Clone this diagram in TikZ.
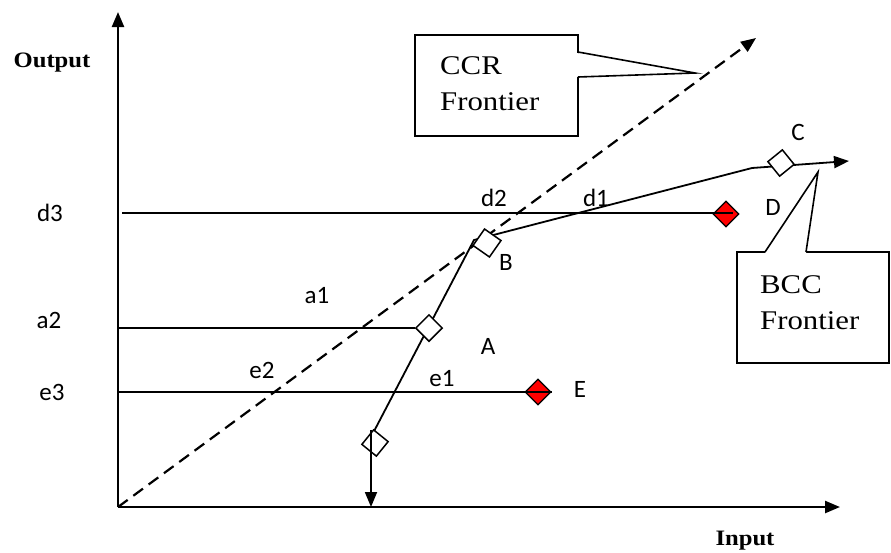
\documentclass[tikz,border=0pt]{standalone}
\usepackage{fontspec}
\usetikzlibrary{shapes.geometric,arrows.meta}
\newfontfamily\labfont{Carlito}
\newfontfamily\serfont[FakeStretch=1.14]{Liberation Serif}
\newfontfamily\axfont[FakeStretch=1.12]{Liberation Serif}
\begin{document}
\begin{tikzpicture}[x=1pt,y=-1pt,
  axis/.style={line width=2.4pt,-{Triangle[length=15pt,width=12pt]}},
  thin/.style={line width=1.8pt},
  wdia/.style={diamond,draw,line width=1.5pt,fill=white,minimum width=27pt,minimum height=27pt,inner sep=0pt},
  rdia/.style={diamond,draw,line width=1.2pt,fill=red,minimum width=26pt,minimum height=26pt,inner sep=0pt},
  lab/.style={font=\labfont\fontsize{25}{28}\selectfont,inner sep=0pt},
  ser/.style={font=\serfont\fontsize{27}{36}\selectfont,align=left,inner sep=0pt},
  axlab/.style={font=\axfont\bfseries\fontsize{22}{24}\selectfont,inner sep=0pt}]
\useasboundingbox (0,0) rectangle (891,552);
% axes
\coordinate (o) at (118,507);
\coordinate (ytop) at (118,12);
\coordinate (xend) at (840,507);
\draw[axis] (o) -- (ytop);
\draw[axis] (o) -- (xend);
\node[axlab] (outl) at (52,63) {Output};
\node[axlab] (inl) at (745,541) {Input};
% CCR dashed
\coordinate (ccrtip) at (756,38);
\draw[line width=2.2pt,dash pattern=on 12pt off 7pt,-{Triangle[length=15pt,width=12pt]}] (o) -- (ccrtip);
% horizontal lines
\node[rdia] (D) at (726,214) {};
\node[rdia] (E) at (538,392) {};
\coordinate (d3s) at (122,213);
\coordinate (a2s) at (118,328);
\coordinate (e3s) at (118,392);
\draw[thin] (d3s) -- (733,213);
\draw[thin] (e3s) -- (E.east);
% frontier
\coordinate (p0) at (371,437);
\coordinate (pB) at (474,240);
\coordinate (pk) at (752,168);
\coordinate (ptip) at (849,161);
\draw[line width=1.8pt,-{Triangle[length=15pt,width=12pt]}] (p0) -- (pB) -- (pk) -- (ptip);
\coordinate (vbot) at (371,507);
\node[wdia] (A) at (429,328) {};
\node[wdia,rotate=10,minimum width=29pt,minimum height=29pt] (B) at (487,243) {};
\node[wdia,rotate=-6] (C) at (781,163) {};
\node[wdia,rotate=6] (P) at (375,443) {};
\draw[line width=1.8pt,-{Triangle[length=15pt,width=12pt]}] (371,430) -- (vbot);
\draw[thin] (a2s) -- (A.west);
% labels
\node[lab] (ld3) at (50,213) {d3};
\node[lab] (la2) at (49,320) {a2};
\node[lab] (le3) at (52,392) {e3};
\node[lab] (la1) at (317,296) {a1};
\node[lab] (le2) at (262,370) {e2};
\node[lab] (le1) at (442,379) {e1};
\node[lab] (ld2) at (494,198) {d2};
\node[lab] (ld1) at (596,198) {d1};
\node[lab] (lA) at (488,346) {A};
\node[lab] (lB) at (506,262) {B};
\node[lab] (lC) at (798,132) {C};
\node[lab] (lD) at (773,207) {D};
\node[lab] (lE) at (580,389) {E};
% CCR callout
\draw[line width=1.6pt] (415,35) rectangle (578,136);
\fill[white] (577,53) -- (695,73) -- (577,77) -- cycle;
\draw[line width=1.6pt] (578,52) -- (695,73) -- (578,77);
\node[ser,anchor=north west] (ccr) at (440,56) {CCR\\Frontier};
% BCC callout
\draw[line width=1.6pt] (737,252) rectangle (889,363);
\fill[white] (765,253) -- (818,172) -- (806,253) -- cycle;
\draw[line width=1.6pt] (765,252) -- (818,172) -- (806,252);
\node[ser,anchor=north west] (bcc) at (760,275) {BCC\\Frontier};
\end{tikzpicture}
\end{document}
